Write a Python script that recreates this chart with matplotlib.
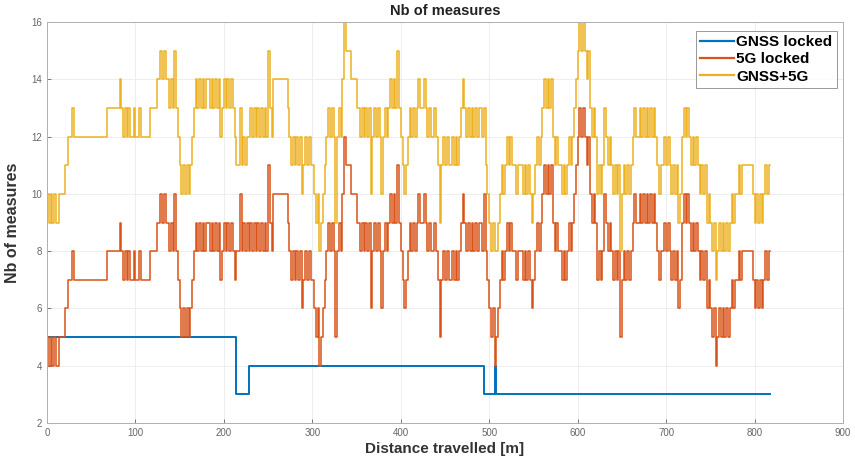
import matplotlib
matplotlib.use("Agg")
import matplotlib.pyplot as plt
import numpy as np

# distance grid (m), one sample every 2 m from 0 to 818
distance = np.arange(0, 820, 2)

# GNSS locked (step breakpoints)
gnss_dist = [0, 214, 228, 494, 506, 508, 818]
gnss_vals = [5, 3, 4, 3, 4, 3, 3]

# 5G locked (rows of 20 m)
nr_locked = [
    5, 4, 5, 4, 5, 4, 4, 5, 5, 5,
    6, 6, 7, 7, 8, 7, 7, 7, 7, 7,
    7, 7, 7, 7, 7, 7, 7, 7, 7, 7,
    7, 7, 7, 7, 8, 8, 8, 8, 8, 8,
    8, 9, 8, 7, 8, 7, 8, 7, 7, 8,
    7, 7, 8, 7, 7, 7, 7, 7, 8, 8,
    8, 8, 9, 9, 10, 9, 10, 9, 9, 8,
    9, 8, 10, 8, 7, 6, 5, 6, 5, 6,
    5, 6, 7, 8, 9, 8, 9, 8, 9, 8,
    9, 9, 8, 9, 8, 9, 8, 9, 7, 8,
    9, 8, 9, 8, 9, 8, 7, 8, 8, 10,
    8, 9, 8, 9, 8, 9, 8, 9, 8, 9,
    8, 9, 8, 9, 8, 11, 9, 8, 10, 10,
    10, 10, 10, 10, 10, 10, 9, 8, 7, 8,
    7, 8, 7, 8, 6, 7, 8, 7, 8, 7,
    7, 6, 5, 6, 4, 5, 6, 7, 8, 9,
    8, 9, 8, 5, 8, 9, 8, 10, 12, 11,
    11, 11, 10, 10, 10, 9, 9, 8, 9, 8,
    9, 8, 9, 6, 8, 9, 8, 9, 8, 6,
    8, 9, 8, 9, 10, 9, 10, 9, 11, 9,
    8, 7, 6, 7, 8, 9, 8, 9, 8, 9,
    10, 9, 9, 10, 9, 8, 9, 8, 8, 9,
    8, 7, 5, 7, 8, 7, 8, 7, 7, 8,
    7, 8, 7, 8, 9, 10, 9, 8, 9, 8,
    9, 8, 9, 8, 9, 9, 8, 10, 8, 7,
    6, 5, 6, 4, 5, 6, 7, 8, 7, 8,
    9, 8, 9, 8, 8, 7, 8, 8, 8, 7,
    8, 7, 8, 7, 6, 7, 8, 9, 8, 9,
    10, 11, 10, 11, 10, 11, 9, 8, 9, 8,
    8, 7, 8, 7, 8, 9, 8, 9, 10, 11,
    12, 13, 12, 13, 12, 11, 12, 10, 9, 10,
    9, 7, 8, 7, 8, 10, 9, 8, 9, 8,
    7, 8, 7, 8, 5, 7, 8, 7, 8, 7,
    8, 9, 10, 9, 9, 10, 9, 10, 9, 10,
    9, 10, 9, 10, 9, 8, 7, 8, 8, 9,
    8, 9, 8, 7, 8, 7, 8, 6, 7, 9,
    10, 9, 10, 9, 8, 9, 8, 9, 8, 7,
    8, 7, 8, 6, 7, 6, 5, 6, 4, 5,
    6, 5, 6, 5, 6, 5, 6, 7, 6, 7,
    7, 8, 7, 8, 8, 8, 8, 8, 8, 7,
    6, 7, 6, 7, 6, 7, 8, 7, 8, 8,
]

# GNSS+5G (rows of 20 m)
gnss_5g = [
    10, 9, 10, 9, 10, 9, 9, 10, 10, 10,
    11, 11, 12, 12, 13, 12, 12, 12, 12, 12,
    12, 12, 12, 12, 12, 12, 12, 12, 12, 12,
    12, 12, 12, 12, 13, 13, 13, 13, 13, 13,
    13, 14, 13, 12, 13, 12, 13, 12, 12, 13,
    12, 12, 13, 12, 12, 12, 12, 12, 13, 13,
    13, 13, 14, 14, 15, 14, 15, 14, 14, 13,
    14, 13, 15, 13, 12, 11, 10, 11, 10, 11,
    10, 11, 12, 13, 14, 13, 14, 13, 14, 13,
    14, 14, 13, 14, 13, 14, 13, 14, 12, 13,
    14, 13, 14, 13, 14, 13, 12, 11, 11, 13,
    11, 12, 11, 12, 12, 13, 12, 13, 12, 13,
    12, 13, 12, 13, 12, 15, 13, 12, 14, 14,
    14, 14, 14, 14, 14, 14, 13, 12, 11, 12,
    11, 12, 11, 12, 10, 11, 12, 11, 12, 11,
    11, 10, 9, 10, 8, 9, 10, 11, 12, 13,
    12, 13, 12, 9, 12, 13, 12, 14, 16, 15,
    15, 15, 14, 14, 14, 13, 13, 12, 13, 12,
    13, 12, 13, 10, 12, 13, 12, 13, 12, 10,
    12, 13, 12, 13, 14, 13, 14, 13, 15, 13,
    12, 11, 10, 11, 12, 13, 12, 13, 12, 13,
    14, 13, 13, 14, 13, 12, 13, 12, 12, 13,
    12, 11, 9, 11, 12, 11, 12, 11, 11, 12,
    11, 12, 11, 12, 13, 14, 13, 12, 13, 12,
    13, 12, 13, 12, 13, 13, 12, 13, 11, 10,
    9, 8, 9, 8, 8, 9, 10, 11, 10, 11,
    12, 11, 12, 11, 11, 10, 11, 11, 11, 10,
    11, 10, 11, 10, 9, 10, 11, 12, 11, 12,
    13, 14, 13, 14, 13, 14, 12, 11, 12, 11,
    11, 10, 11, 10, 11, 12, 11, 12, 13, 14,
    15, 16, 15, 16, 15, 14, 15, 13, 12, 13,
    12, 10, 11, 10, 11, 13, 12, 11, 12, 11,
    10, 11, 10, 11, 8, 10, 11, 10, 11, 10,
    11, 12, 13, 12, 12, 13, 12, 13, 12, 13,
    12, 13, 12, 13, 12, 11, 10, 11, 11, 12,
    11, 12, 11, 10, 11, 10, 11, 9, 10, 12,
    13, 12, 13, 12, 11, 12, 11, 12, 11, 10,
    11, 10, 11, 9, 10, 9, 8, 9, 7, 8,
    9, 8, 9, 8, 9, 8, 9, 10, 9, 10,
    10, 11, 10, 11, 11, 11, 11, 11, 11, 10,
    9, 10, 9, 10, 9, 10, 11, 10, 11, 11,
]

xticks = list(range(0, 901, 100))
yticks = list(range(2, 17, 2))

plt.rcParams['font.family'] = ['Liberation Sans', 'DejaVu Sans']

fig = plt.figure(figsize=(8.55, 4.66), dpi=100)
ax = fig.add_axes([47 / 855, 1 - 423 / 466, (843 - 47) / 855, (423 - 22) / 466])

ax.plot(gnss_dist, gnss_vals, drawstyle='steps-post', color='#0072BD', lw=1.4, label='GNSS locked')
ax.plot(distance, nr_locked, drawstyle='steps-post', color='#D95319', lw=1.1, label='5G locked')
ax.plot(distance, gnss_5g, drawstyle='steps-post', color='#EDB120', lw=1.1, label='GNSS+5G')

ax.set_xlim(0, 900)
ax.set_ylim(2, 16)
ax.set_xticks(xticks)
ax.set_yticks(yticks)
ax.tick_params(direction='in', labelsize=7, colors='#666666', length=3, width=0.6)
ax.grid(True, color='#ebebeb', lw=0.6)
ax.set_axisbelow(True)
for s in ax.spines.values():
    s.set_color('#b0b0b0')
    s.set_linewidth(0.7)

ax.set_title('Nb of measures', fontsize=10.5, fontweight='bold', color='#222222', pad=5)
ax.set_xlabel('Distance travelled [m]', fontsize=11, fontweight='bold', color='#333333', labelpad=3)
ax.set_ylabel('Nb of measures', fontsize=11.5, fontweight='bold', color='#333333', labelpad=8)

leg = ax.legend(loc='upper right', bbox_to_anchor=(0.9925, 0.978),
                prop={'weight': 'bold', 'size': 11}, frameon=True, fancybox=False,
                handlelength=2.2, handletextpad=0.15, borderpad=0.3, labelspacing=0.2,
                borderaxespad=0.0)
leg.get_frame().set_edgecolor('#7f7f7f')
leg.get_frame().set_linewidth(0.7)
for line in leg.get_lines():
    line.set_linewidth(1.6)

fig.savefig('out.png', dpi=100)
